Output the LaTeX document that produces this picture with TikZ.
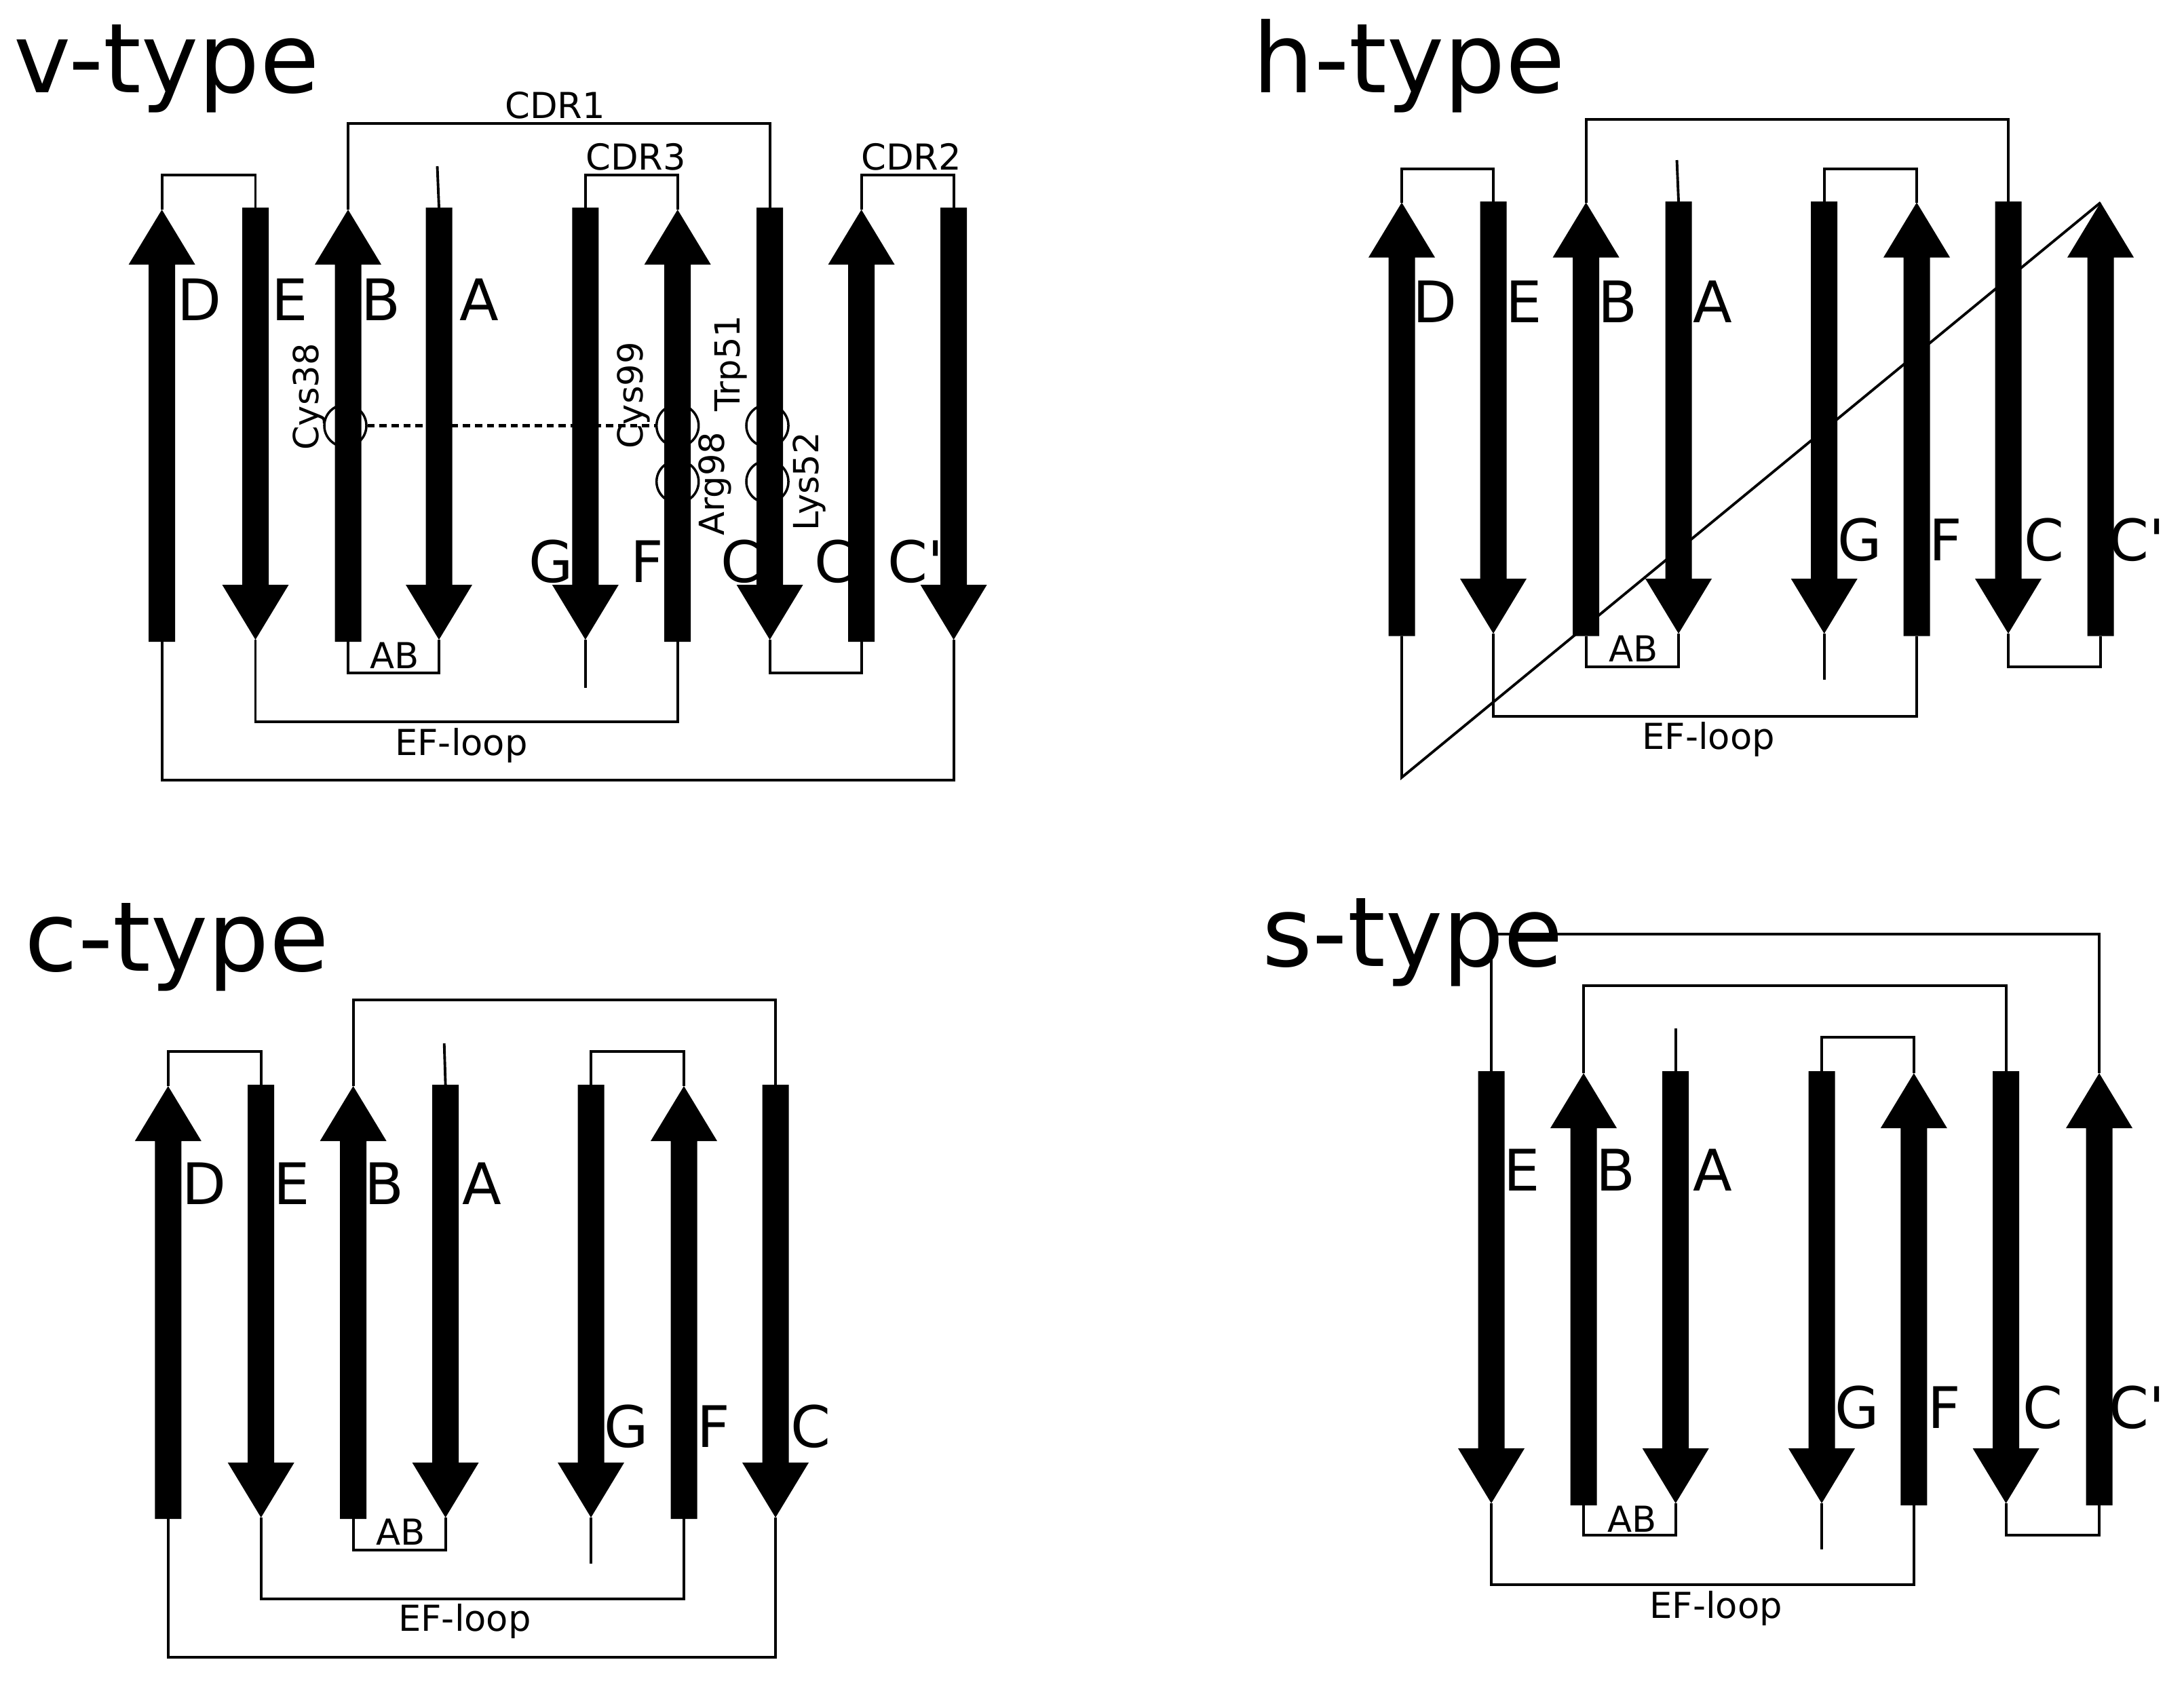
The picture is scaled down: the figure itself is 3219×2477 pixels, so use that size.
\documentclass[tikz,border=0pt]{standalone}
\usepackage{fontspec}
\setmainfont{DejaVu Sans}
\usepackage{tikz}
\usetikzlibrary{positioning}

% strand arrows: name, x, top, bottom
\newcommand{\upstrand}[4]{%
  \fill (#2-19.5,#4) -- (#2-19.5,#3+81) -- (#2-49,#3+81) -- (#2,#3)
    -- (#2+49,#3+81) -- (#2+19.5,#3+81) -- (#2+19.5,#4) -- cycle;
  \coordinate (#1t) at (#2,#3);
  \coordinate (#1b) at (#2,#4);
}
\newcommand{\downstrand}[4]{%
  \fill (#2-19.5,#3) -- (#2-19.5,#4-81) -- (#2-49,#4-81) -- (#2,#4)
    -- (#2+49,#4-81) -- (#2+19.5,#4-81) -- (#2+19.5,#3) -- cycle;
  \coordinate (#1t) at (#2,#3);
  \coordinate (#1b) at (#2,#4);
}

\tikzset{
  lnk/.style={line width=1.1pt},
  paneltitle/.style={font=\fontsize{40.5}{40.5}\selectfont, anchor=base west, inner sep=0pt},
  strandlbl/.style={font=\fontsize{24}{24}\selectfont, inner sep=0pt},
  looplbl/.style={font=\fontsize{15}{15}\selectfont, inner sep=0pt},
  reslbl/.style={font=\fontsize{14.5}{14.5}\selectfont, inner sep=0pt, rotate=90},
  resring/.style={circle, draw, line width=1pt, minimum size=0.62cm, inner sep=0pt},
  ssbond/.style={line width=1.3pt, dash pattern=on 3pt off 2pt},
}

\begin{document}
\begin{tikzpicture}[x=0.01cm, y=-0.01cm]
  \useasboundingbox (0,0) rectangle (3219,2477);

  % v-type
  \node[paneltitle] (vtitle) at (20,136) {v-type};
  \node[strandlbl] (vDl) at (294,442) {D};
  \node[strandlbl] (vEl) at (427,442) {E};
  \node[strandlbl] (vBl) at (561,442) {B};
  \node[strandlbl] (vAl) at (706,442) {A};
  \node[strandlbl] (vGl) at (812,828) {G};
  \node[strandlbl] (vFl) at (954,828) {F};
  \node[strandlbl] (vCl) at (1092,828) {C};
  \node[strandlbl] (vCppl) at (1230,828) {C};
  \node[strandlbl] (vCpl) at (1350,828) {C\textquotesingle};
  \node[reslbl] (lcys38) at (456,585) {Cys38};
  \node[reslbl] (lcys99) at (934,583) {Cys99};
  \node[reslbl] (ltrp51) at (1077,536) {Trp51};
  \node[reslbl] (larg98) at (1054,713) {Arg98};
  \node[reslbl] (llys52) at (1193,710) {Lys52};

  \upstrand{vD}{238.6}{309}{946}
  \downstrand{vE}{376.5}{306}{943}
  \upstrand{vB}{513}{309}{946}
  \downstrand{vA}{647}{306}{943}
  \downstrand{vG}{862.8}{306}{943}
  \upstrand{vF}{998.7}{309}{946}
  \downstrand{vC}{1134.6}{306}{943}
  \upstrand{vCpp}{1269.6}{309}{946}
  \downstrand{vCp}{1405.6}{306}{943}

  \draw[lnk] (vDt) -- (vDt |- 0,258) -| (vEt);
  \draw[lnk] (vBt) -- (vBt |- 0,182) -| (vCt);
  \draw[lnk] (vGt) -- (vGt |- 0,258) -| (vFt);
  \draw[lnk] (vCppt) -- (vCppt |- 0,258) -| (vCpt);
  \draw[lnk] (vAt) -- (644.5,245);
  \draw[lnk] (vBb) -- (vBb |- 0,992) -| (vAb);
  \draw[lnk] (vGb) -- (vGb |- 0,1014);
  \draw[lnk] (vEb) -- (vEb |- 0,1064) -| (vFb);
  \draw[lnk] (vCb) -- (vCb |- 0,992) -| (vCppb);
  \draw[lnk] (vDb) -- (vDb |- 0,1150) -| (vCpb);
  \node[looplbl] (vcdr1) at (818,155) {CDR1};
  \node[looplbl] (vcdr3) at (937,231) {CDR3};
  \node[looplbl] (vcdr2) at (1343,231) {CDR2};
  \node[looplbl] (vab) at (582,966) {AB};
  \node[looplbl] (vef) at (680,1099) {EF-loop};

  \node[resring] (cys38) at (509,627.5) {};
  \node[resring] (cys99) at (998.7,627.5) {};
  \node[resring] (arg98) at (998.7,710) {};
  \node[resring] (trp51) at (1131,627.5) {};
  \node[resring] (lys52) at (1131,710) {};
  \draw[ssbond] (cys38) -- (cys99);

  % h-type
  \node[paneltitle] (htitle) at (1846,136) {h-type};
  \node[strandlbl] (hDl) at (2115,445) {D};
  \node[strandlbl] (hEl) at (2246,445) {E};
  \node[strandlbl] (hBl) at (2384,445) {B};
  \node[strandlbl] (hAl) at (2524,445) {A};
  \node[strandlbl] (hGl) at (2741,796) {G};
  \node[strandlbl] (hFl) at (2868,796) {F};
  \node[strandlbl] (hCl) at (3013,796) {C};
  \node[strandlbl] (hCpl) at (3150,796) {C\textquotesingle};

  \upstrand{hD}{2066}{298.5}{937.5}
  \downstrand{hE}{2201}{297}{934}
  \upstrand{hB}{2337.6}{298.5}{937.5}
  \downstrand{hA}{2474}{297}{934}
  \downstrand{hG}{2688.7}{297}{934}
  \upstrand{hF}{2825}{298.5}{937.5}
  \downstrand{hC}{2960}{297}{934}
  \upstrand{hCp}{3096}{298.5}{937.5}

  \draw[lnk] (hDt) -- (hDt |- 0,249) -| (hEt);
  \draw[lnk] (hBt) -- (hBt |- 0,176) -| (hCt);
  \draw[lnk] (hAt) -- (2471.5,236);
  \draw[lnk] (hGt) -- (hGt |- 0,249) -| (hFt);
  \draw[lnk] (hBb) -- (hBb |- 0,983) -| (hAb);
  \draw[lnk] (hGb) -- (hGb |- 0,1002);
  \draw[lnk] (hEb) -- (hEb |- 0,1056) -| (hFb);
  \draw[lnk] (hCb) -- (hCb |- 0,983) -| (hCpb);
  \draw[lnk] (hDb) -- (hDb |- 0,1146) -- (hCpt);
  \node[looplbl] (hab) at (2408,956) {AB};
  \node[looplbl] (hef) at (2518,1090) {EF-loop};

  % c-type
  \node[paneltitle] (ctitle) at (36,1431) {c-type};
  \node[strandlbl] (cDl) at (300.5,1744.5) {D};
  \node[strandlbl] (cEl) at (430,1744.5) {E};
  \node[strandlbl] (cBl) at (566,1744.5) {B};
  \node[strandlbl] (cAl) at (710,1744.5) {A};
  \node[strandlbl] (cGl) at (923,2103) {G};
  \node[strandlbl] (cFl) at (1052,2103) {F};
  \node[strandlbl] (cCl) at (1195,2103) {C};

  \upstrand{cD}{247.8}{1601}{2239}
  \downstrand{cE}{384.7}{1599}{2237}
  \upstrand{cB}{520.6}{1601}{2239}
  \downstrand{cA}{656.6}{1599}{2237}
  \downstrand{cG}{871}{1599}{2237}
  \upstrand{cF}{1008}{1601}{2239}
  \downstrand{cC}{1143}{1599}{2237}

  \draw[lnk] (cDt) -- (cDt |- 0,1550) -| (cEt);
  \draw[lnk] (cBt) -- (cBt |- 0,1474) -| (cCt);
  \draw[lnk] (cAt) -- (654.7,1538);
  \draw[lnk] (cGt) -- (cGt |- 0,1550) -| (cFt);
  \draw[lnk] (cBb) -- (cBb |- 0,2285) -| (cAb);
  \draw[lnk] (cGb) -- (cGb |- 0,2305);
  \draw[lnk] (cEb) -- (cEb |- 0,2357) -| (cFb);
  \draw[lnk] (cDb) -- (cDb |- 0,2443) -| (cCb);
  \node[looplbl] (cab) at (591,2258) {AB};
  \node[looplbl] (cef) at (685,2390) {EF-loop};

  % s-type
  \node[paneltitle] (stitle) at (1860,1424) {s-type};
  \node[strandlbl] (sEl) at (2243,1725) {E};
  \node[strandlbl] (sBl) at (2381,1725) {B};
  \node[strandlbl] (sAl) at (2524,1725) {A};
  \node[strandlbl] (sGl) at (2737,2075) {G};
  \node[strandlbl] (sFl) at (2866,2075) {F};
  \node[strandlbl] (sCl) at (3011,2075) {C};
  \node[strandlbl] (sCpl) at (3150,2075) {C\textquotesingle};

  \downstrand{sE}{2198}{1579}{2216}
  \upstrand{sB}{2334}{1582}{2219}
  \downstrand{sA}{2469.7}{1579}{2216}
  \downstrand{sG}{2685}{1579}{2216}
  \upstrand{sF}{2820.8}{1582}{2219}
  \downstrand{sC}{2956.6}{1579}{2216}
  \upstrand{sCp}{3094}{1582}{2219}

  \draw[lnk] (sEt) -- (sEt |- 0,1377) -| (sCpt);
  \draw[lnk] (sBt) -- (sBt |- 0,1453) -| (sCt);
  \draw[lnk] (sAt) -- (2469.7,1516);
  \draw[lnk] (sGt) -- (sGt |- 0,1529) -| (sFt);
  \draw[lnk] (sBb) -- (sBb |- 0,2263) -| (sAb);
  \draw[lnk] (sGb) -- (sGb |- 0,2284);
  \draw[lnk] (sEb) -- (sEb |- 0,2336) -| (sFb);
  \draw[lnk] (sCb) -- (sCb |- 0,2263) -| (sCpb);
  \node[looplbl] (sab) at (2406,2239) {AB};
  \node[looplbl] (sef) at (2529,2371) {EF-loop};
\end{tikzpicture}
\end{document}
